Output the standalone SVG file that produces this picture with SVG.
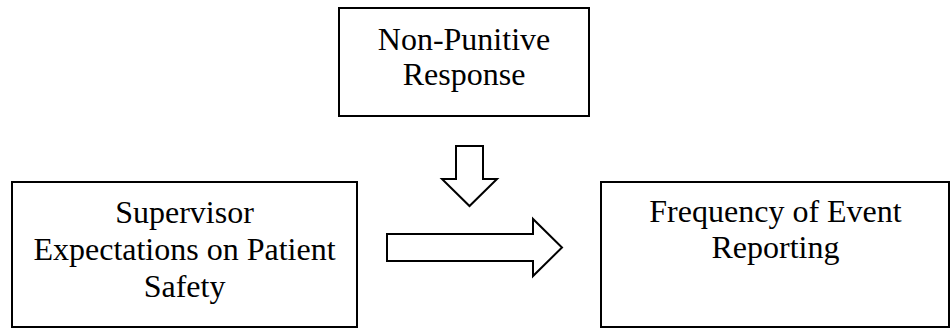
<svg xmlns="http://www.w3.org/2000/svg" width="951" height="329" viewBox="0 0 951 329">
<style>
.box{fill:#fff;stroke:#000;stroke-width:2}
.arr{fill:#fff;stroke:#000;stroke-width:2;stroke-linejoin:miter}
text{font-family:"Liberation Serif","Times New Roman",serif;font-size:32px;fill:#000;text-anchor:middle}
</style>
<rect width="951" height="329" fill="#fff"/>
<g id="node-nonpunitive">
<rect class="box" x="339" y="8" width="250" height="108"/>
<text x="464" y="50">Non-Punitive</text>
<text x="464" y="85">Response</text>
</g>
<g id="node-supervisor">
<rect class="box" x="12" y="182" width="345" height="145"/>
<text x="184.5" y="223">Supervisor</text>
<text x="184.5" y="260">Expectations on Patient</text>
<text x="184.5" y="297">Safety</text>
</g>
<g id="node-frequency">
<rect class="box" x="601" y="182" width="348" height="145"/>
<text x="775.5" y="222">Frequency of Event</text>
<text x="775.5" y="258">Reporting</text>
</g>
<g id="connectors">
<polygon class="arr" points="456,146 483,146 483,179 497,179 469.5,206 442,179 456,179"/>
<polygon class="arr" points="387,234 533,234 533,219 562,247.5 533,276 533,261 387,261"/>
</g>
</svg>
